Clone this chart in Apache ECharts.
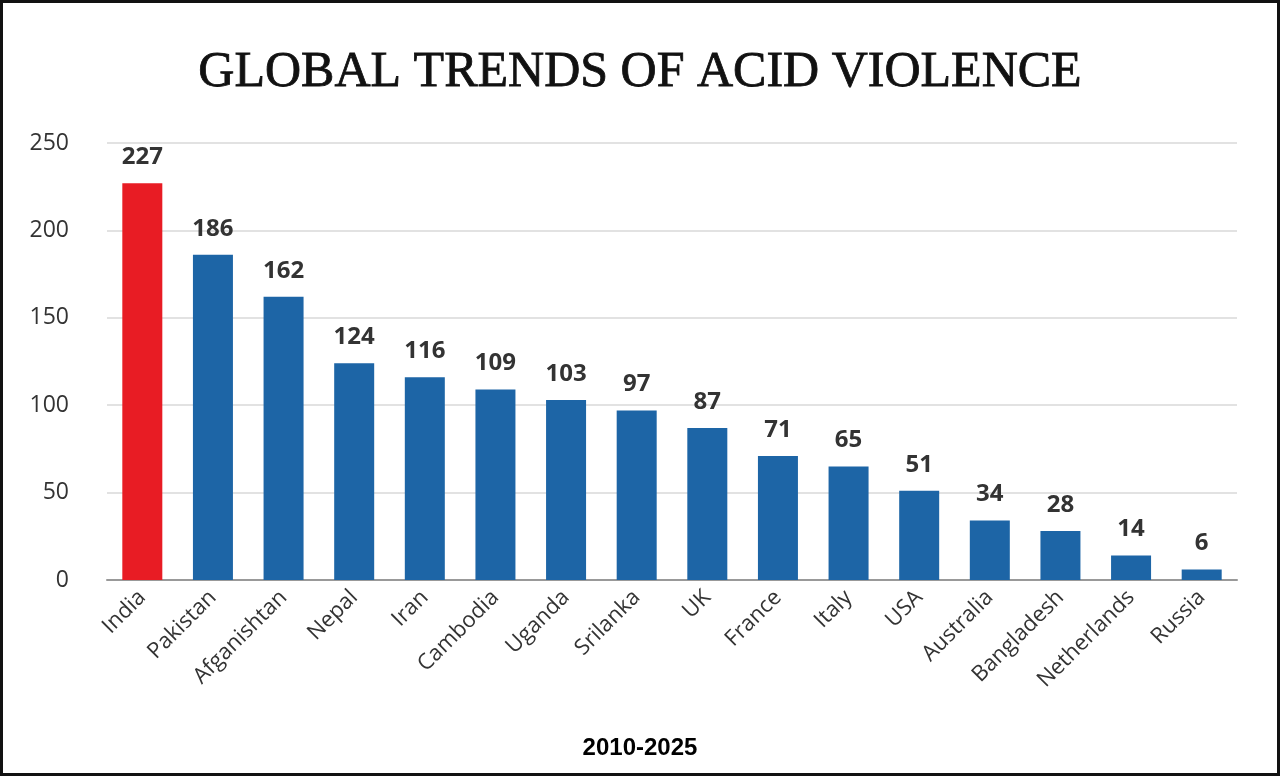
<!DOCTYPE html>
<html><head><meta charset="utf-8">
<script src="https://cdn.jsdelivr.net/npm/echarts@6/dist/echarts.min.js"></script>
<style>
html,body{margin:0;padding:0;background:#fff}
#c{width:1274px;height:770px;border:3px solid #111}
</style></head>
<body><div id="c"></div>
<script>
const countries = ["India","Pakistan","Afganishtan","Nepal","Iran","Cambodia","Uganda","Srilanka","UK","France","Italy","USA","Australia","Bangladesh","Netherlands","Russia"];
const cases = [227,186,162,124,116,109,103,97,87,71,65,51,34,28,14,6];
const yTicks = [0,50,100,150,200,250];

const chart = echarts.init(document.getElementById("c"));
chart.setOption({
  animation: false,
  title: [
    { text: "GLOBAL TRENDS OF ACID VIOLENCE", left: "center", top: 40,
      textStyle: { fontFamily: "Liberation Serif", fontSize: 50, fontWeight: "normal", color: "#111",
        textBorderColor: "#111", textBorderWidth: 0.8 } },
    { text: "2010-2025", left: "center", top: 728,
      textStyle: { fontFamily: "Liberation Sans", fontSize: 24, fontWeight: "bold", color: "#000" } }
  ],
  grid: { left: 104, right: 40, top: 140, bottom: 193 },
  xAxis: {
    type: "category", data: countries,
    axisTick: { show: false },
    axisLine: { lineStyle: { color: "#999", width: 2 } },
    axisLabel: { rotate: 45, fontSize: 22, color: "#333", fontFamily: "Open Sans", interval: 0, margin: 14 }
  },
  yAxis: {
    type: "value", min: yTicks[0], max: yTicks[yTicks.length - 1], interval: 50,
    axisLabel: { fontSize: 23, color: "#333", fontFamily: "Open Sans", margin: 38 },
    splitLine: { lineStyle: { color: "#e2e2e2", width: 2 } }
  },
  series: [{
    type: "bar", barWidth: 40,
    data: cases.map((v, i) => ({ value: v, itemStyle: { color: i === 0 ? "#e81c24" : "#1d65a6" } })),
    label: { show: true, position: "top", distance: 14, fontSize: 24, fontWeight: "bold", color: "#333", fontFamily: "Open Sans" }
  }]
});
</script></body></html>
